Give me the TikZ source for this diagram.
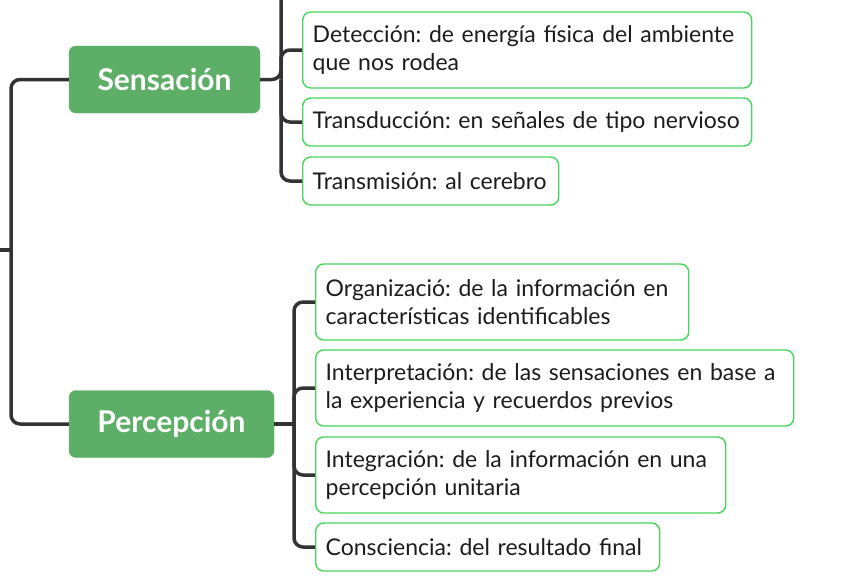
\documentclass[tikz,border=0pt]{standalone}
\usepackage{fontspec}
\setmainfont{Lato}
\frenchspacing
\definecolor{verde}{HTML}{5DAE66}
\definecolor{borde}{HTML}{45D65B}
\definecolor{linea}{HTML}{333333}
\definecolor{texto}{HTML}{1C1C1C}
\tikzset{
  tema/.style={fill=verde, draw=verde, rounded corners=7pt, text=white,
    font=\fontsize{30}{34}\selectfont\bfseries, inner sep=0pt},
  hoja/.style={draw=borde, line width=1.4pt, rounded corners=8pt, text=texto,
    font=\fontsize{23}{28}\selectfont, align=left, inner xsep=10pt, inner ysep=0pt, anchor=west},
  rama/.style={draw=linea, line width=3.5pt, rounded corners=9pt}
}
\begin{document}
\begin{tikzpicture}[x=1pt,y=-1pt]
\useasboundingbox (0,0) rectangle (848,581);

\node[tema, minimum width=191, minimum height=67] (sens) at (164.5,79.5) {Sensación};
\node[tema, minimum width=205, minimum height=67] (perc) at (171.5,424) {Percepción};

\coordinate (raiz) at (0,250);
\coordinate (eje) at (11,250);
\coordinate (hubS) at (281,79.5);
\coordinate (hubP) at (294,424);
\coordinate (arriba) at (281,0);

\draw[rama] (raiz) -- (eje);
\draw[rama] (eje) |- (sens.west);
\draw[rama] (eje) |- (perc.west);
\draw[rama] (sens.east) -- (hubS) -- (arriba);
\draw[rama] (perc.east) -- (hubP);

% hijos de Sensacion
\foreach \nombre/\yy/\ww/\hh/\texto in {
  det/50/449/76/{Detección: de energía física del ambiente\\que nos rodea},
  tra/122/449/48/{Transducción: en señales de tipo nervioso},
  trm/181/256/48/{Transmisión: al cerebro}}{
\pgfmathsetmacro\tw{\ww-20}
\node[hoja, text width=\tw pt, minimum height=\hh] (\nombre) at (302,\yy) {\texto};
\draw[rama] (hubS) |- (\nombre.west);
}

% hijos de Percepcion
\foreach \nombre/\yy/\ww/\hh/\texto in {
  org/302/373/76/{Organizació: de la información en\\características identificables},
  int/388/478/76/{Interpretación: de las sensaciones en base a\\la experiencia y recuerdos previos},
  ing/475/410/76/{Integración: de la información en una\\percepción unitaria},
  con/547/344/48/{Consciencia: del resultado final}}{
\pgfmathsetmacro\tw{\ww-20}
\node[hoja, text width=\tw pt, minimum height=\hh] (\nombre) at (315,\yy) {\texto};
\draw[rama] (hubP) |- (\nombre.west);
}

\end{tikzpicture}
\end{document}
